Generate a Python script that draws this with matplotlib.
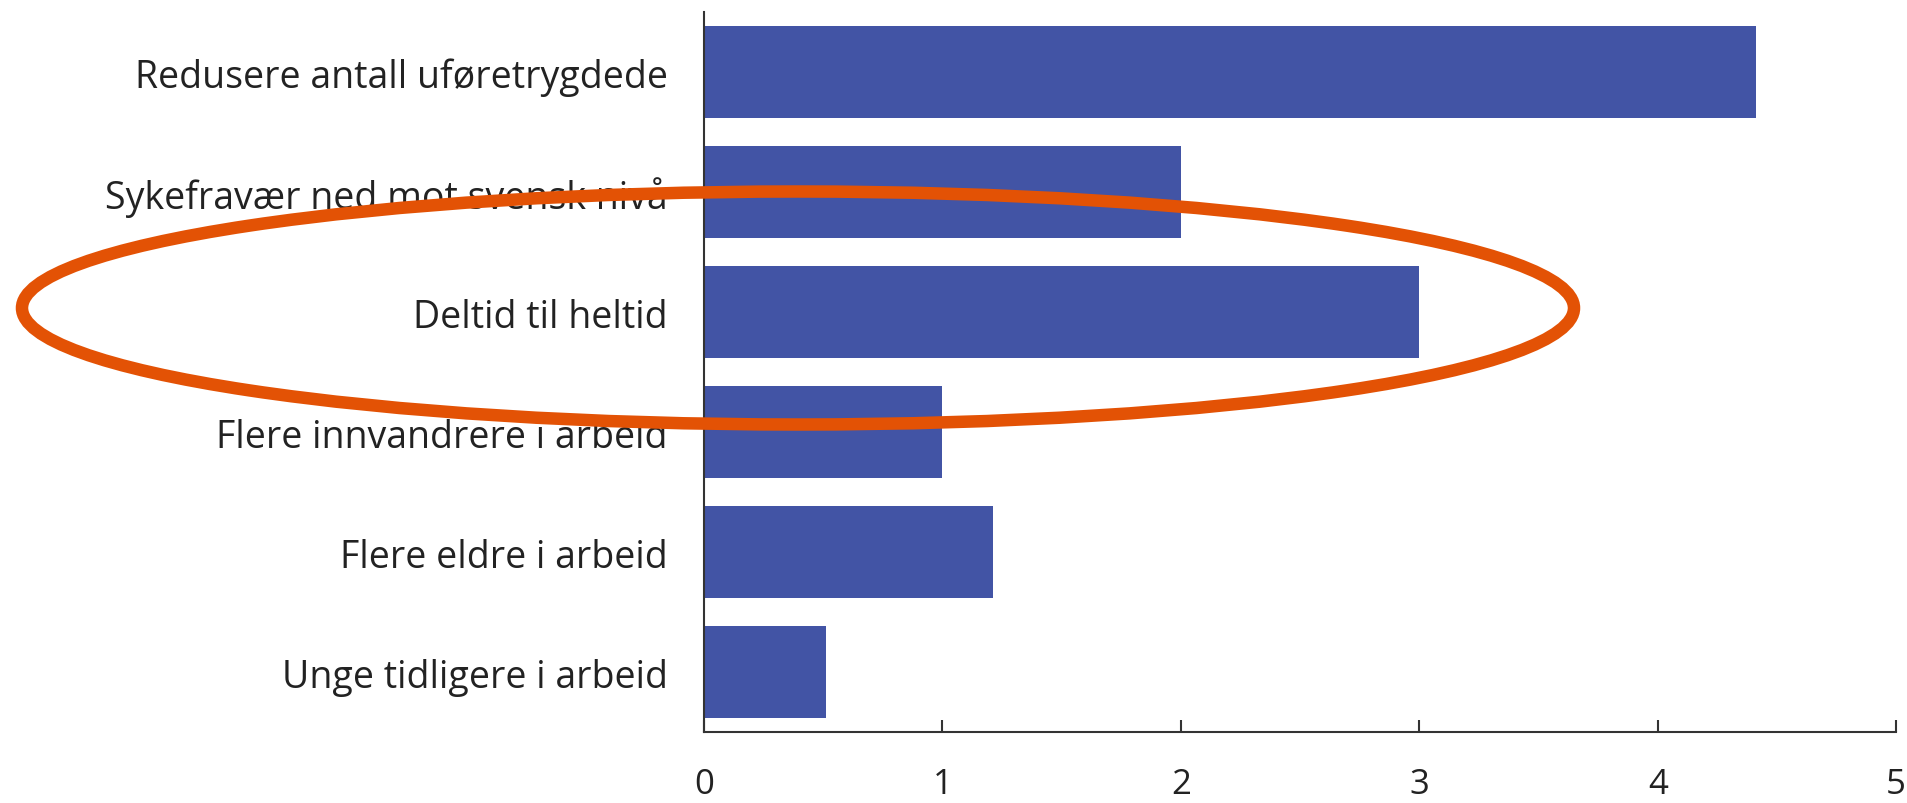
import matplotlib
matplotlib.use("Agg")
import matplotlib.pyplot as plt
from matplotlib.patches import Ellipse

# bidrag per tiltak (lest av figuren)
categories = [
    "Redusere antall uføretrygdede",
    "Sykefravær ned mot svensk nivå",
    "Deltid til heltid",
    "Flere innvandrere i arbeid",
    "Flere eldre i arbeid",
    "Unge tidligere i arbeid",
]
values = [4.41, 2.0, 3.0, 1.0, 1.21, 0.51]
xticks = [0, 1, 2, 3, 4, 5]

plt.rcParams["font.family"] = ["Open Sans", "DejaVu Sans"]

fig = plt.figure(figsize=(19.08, 8.04), dpi=100)
ax = fig.add_axes([0.369, 0.0883, 0.6248, 0.8955])

ypos = list(range(len(categories)))
ax.barh(ypos, values, height=0.77, color="#4254A5")

ax.set_xlim(0, 5)
ax.set_ylim(5.5, -0.5)
ax.set_yticks(ypos)
ax.set_yticklabels(categories, fontsize=27, color="#222222")
ax.set_xticks(xticks)
ax.set_xticklabels([str(t) for t in xticks], fontsize=25, color="#222222")

ax.tick_params(axis="y", length=0, pad=26)
ax.tick_params(axis="x", direction="in", length=9, width=1.5, color="#333333", pad=25)

for side in ["top", "right"]:
    ax.spines[side].set_visible(False)
for side in ["left", "bottom"]:
    ax.spines[side].set_linewidth(1.5)
    ax.spines[side].set_color("#333333")

# oransje ring rundt "Deltid til heltid"
ring = Ellipse((798 / 1908, 1 - 309 / 804), 1552 / 1908, 233 / 804,
               transform=fig.transFigure, fill=False, edgecolor="#E35205",
               linewidth=9, clip_on=False)
fig.patches.append(ring)

fig.savefig("out.png", dpi=100)
